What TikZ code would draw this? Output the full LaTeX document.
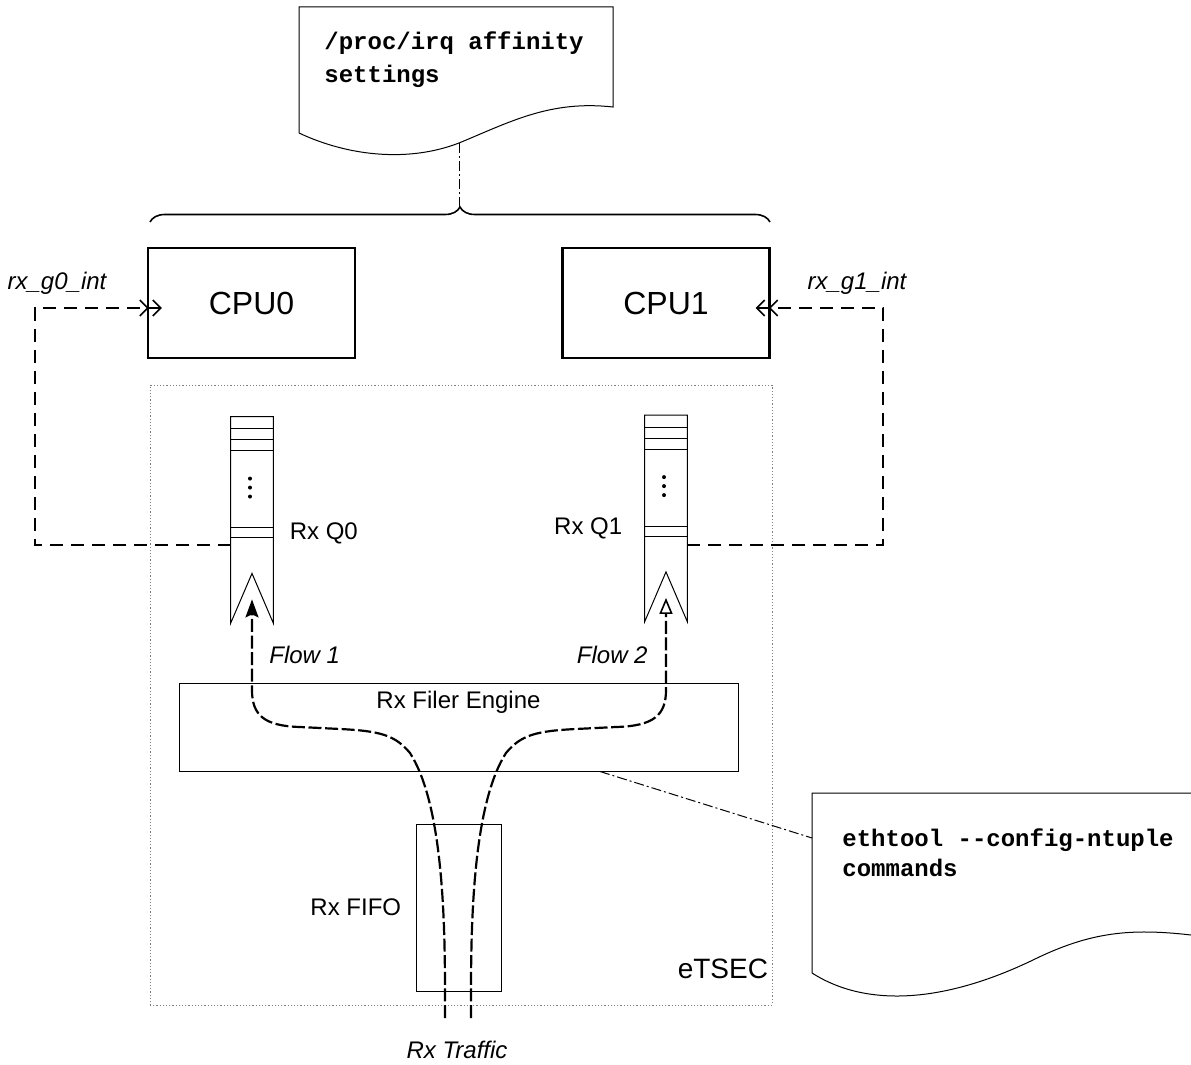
\documentclass[tikz,border=0pt]{standalone}
\usepackage{fontspec}
\setmainfont{Liberation Sans}
\setmonofont{Liberation Mono}
\usetikzlibrary{arrows.meta,positioning,decorations.pathreplacing}

\begin{document}
\begin{tikzpicture}[x=0.5pt,y=-0.5pt,
  box/.style={draw,line width=0.5pt,inner sep=0pt},
  cpu/.style={draw,line width=1.1pt,minimum width=103.5pt,minimum height=55pt,font=\fontsize{16}{19}\selectfont},
  qbox/.style={inner sep=0pt,minimum width=21pt,minimum height=103pt},
  lab/.style={font=\fontsize{12}{14}\selectfont,inner sep=1pt},
  ilab/.style={font=\fontsize{12}{14}\selectfont\itshape,inner sep=1pt},
  doctext/.style={align=left,inner sep=0pt,anchor=north west},
  docline/.style={line width=0.5pt},
  irqline/.style={line width=1pt,dash pattern=on 6.5pt off 4pt,shorten >=-7.5pt,
    -{Straight Barb[length=4pt,width=8pt,line width=0.8pt,sep=1.5pt]Straight Barb[length=4pt,width=8pt,line width=0.8pt]}},
  flow/.style={line width=1.1pt,dash pattern=on 6.5pt off 1.8pt},
  dashdot/.style={line width=0.5pt,dash pattern=on 5pt off 1.5pt on 1pt off 1.5pt}]
\clip (0,0) rectangle (1191,1065);

% config documents
\node[doctext,font=\fontsize{12}{16.5}\selectfont\ttfamily\bfseries] (irq) at (324,31) {/proc/irq affinity\\settings};
\draw[docline] (299,133) -- (299,7) -- (613,7) -- (613,107)
  .. controls (550,100) and (510,122) .. (459,143)
  .. controls (410,162) and (350,157) .. (299,133);
\coordinate (irq-tail) at (459,143);

\node[doctext,font=\fontsize{12}{15}\selectfont\ttfamily\bfseries] (ntuple) at (842,828) {ethtool -{}-config-ntuple\\commands};
\draw[docline] (1240,793) -- (812,793) -- (812,973)
  .. controls (870,1010) and (950,1000) .. (1033,960)
  .. controls (1090,932) and (1130,928) .. (1191,935) -- (1240,940);
\coordinate (ntuple-edge) at (812,838);

% brace over the cpus
\draw[line width=0.8pt,decorate,decoration={brace,amplitude=7.5pt}] (150,222) -- (770,222);
\coordinate (brace-tip) at (459,207);
\draw[dashdot] (irq-tail) -- (brace-tip);

\node[cpu] (cpu0) at (251.5,303) {CPU0};
\node[cpu] (cpu1) at (666,303) {CPU1};

% eTSEC block
\node[draw=gray,line width=0.4pt,dash pattern=on 0.6pt off 1pt,minimum width=311pt,minimum height=310pt] (etsec) at (461,695) {};
\node[font=\fontsize{14}{17}\selectfont,anchor=base east,inner sep=0pt] (etseclab) at ([xshift=-2pt,yshift=13.5pt]etsec.south east) {eTSEC};

% rx queues
\node[qbox] (q0) at (252,520) {};
\node[qbox] (q1) at (666,518.5) {};
\foreach \q in {q0,q1} {
  \draw[line width=0.5pt] (\q.south west) -- (\q.north west) -- (\q.north east) -- (\q.south east)
    -- ([yshift=25pt]\q.south) -- cycle;
  \foreach \d in {6,11.5,17,55.5,60.5}
    \draw[line width=0.5pt] ([yshift=-\d pt]\q.north west) -- ([yshift=-\d pt]\q.north east);
  \foreach \d in {31,35.5,40}
    \fill ([xshift=-1pt,yshift=-\d pt]\q.north) circle (1pt);
}
\node[lab,anchor=west] (q0lab) at ([xshift=7pt,yshift=-6.5pt]q0.east) {Rx Q0};
\node[lab,anchor=east] (q1lab) at ([xshift=-10pt,yshift=-4.75pt]q1.west) {Rx Q1};

\node[box,minimum width=279.5pt,minimum height=44pt,
  label={[lab,anchor=north,yshift=-3pt]north:Rx Filer Engine}] (filer) at (458.5,727) {};
\node[box,minimum width=42.5pt,minimum height=83.5pt] (fifo) at (458.5,907.5) {};
\node[lab,left=6pt of fifo] (fifolab) {Rx FIFO};

% interrupt lines
\draw[irqline] ([yshift=-12.5pt]q0.west) -- (35,545) |- ([yshift=-2.5pt]cpu0.west);
\draw[irqline] ([yshift=-13.25pt]q1.east) -- (883,545) |- ([yshift=-2.5pt]cpu1.east);
\node[ilab] (g0lab) at (57,283) {rx\_g0\_int};
\node[ilab] (g1lab) at (857,283) {rx\_g1\_int};

% flows
\coordinate (in1) at (445,1018);
\coordinate (in2) at (471,1018);
\draw[flow,-{Stealth[length=9pt,width=6.5pt,inset=1.5pt]}] (in1) -- (445,990)
  .. controls (445,900) and (440,800) .. (410,753)
  .. controls (395,735) and (380,731) .. (340,729) -- (300,727)
  .. controls (264,726) and (252,715) .. (252,690) -- ([yshift=12pt]q0.south);
\draw[flow,-{Triangle[open,length=8pt,width=6.5pt,line width=0.8pt]}] (in2) -- (471,990)
  .. controls (471,900) and (476,800) .. (506,753)
  .. controls (521,735) and (536,731) .. (576,729) -- (616,727)
  .. controls (654,726) and (666,715) .. (666,690) -- ([yshift=12pt]q1.south);
\node[ilab,anchor=west] (f1lab) at (267,655) {Flow 1};
\node[ilab,anchor=east] (f2lab) at (650,655) {Flow 2};
\node[ilab] (trafficlab) at (457,1050) {Rx Traffic};

\draw[dashdot] ([xshift=70.75pt]filer.south) -- (ntuple-edge);
\end{tikzpicture}
\end{document}
